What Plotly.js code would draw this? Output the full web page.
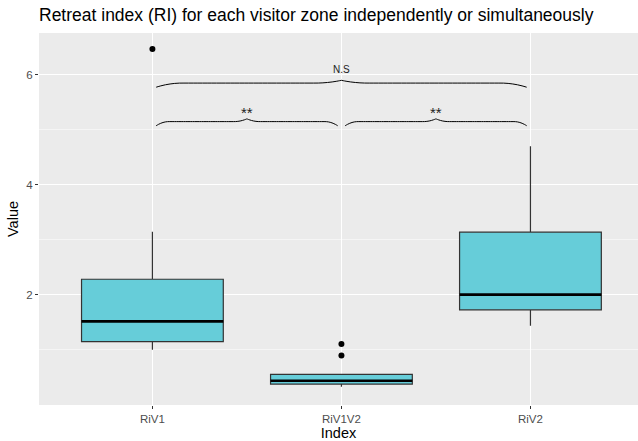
<!DOCTYPE html>
<html>
<head>
<meta charset="utf-8">
<script src="https://cdn.plot.ly/plotly-3.0.1.min.js"></script>
<style>html,body{margin:0;padding:0;background:#fff;}#chart{width:638px;height:441px;}</style>
</head>
<body>
<div id="chart"></div>
<script>
// ---- data ----
const categories = ["RiV1", "RiV1V2", "RiV2"];
const q1 = [1.15, 0.38, 1.73];
const medians = [1.52, 0.44, 2.005];
const q3 = [2.285, 0.555, 3.14];
const lowerWhisker = [1.005, 0.33, 1.44];
const upperWhisker = [3.15, 0.56, 4.70];
const outlierCat = [0, 1, 1];
const outlierVal = [6.47, 1.11, 0.90];
// significance comparisons
const compFrom = [0, 1, 0];
const compTo = [1, 2, 2];
const compLevel = [5.15, 5.15, 5.85];
const compLabel = ["**", "**", "N.S"];

const fillColor = "rgb(102,205,217)";
const boxWidth = 0.75;
const traces = [];

categories.forEach((c, i) => {
  traces.push({
    type: "box",
    x: [i],
    q1: [q1[i]], median: [medians[i]], q3: [q3[i]],
    lowerfence: [lowerWhisker[i]], upperfence: [upperWhisker[i]],
    width: boxWidth,
    whiskerwidth: 0,
    fillcolor: fillColor,
    line: {color: "#333333", width: 1.2},
    boxpoints: false,
    hoverinfo: "skip",
    showlegend: false
  });
  // thick median line
  traces.push({
    type: "scatter", mode: "lines",
    x: [i - boxWidth / 2, i + boxWidth / 2],
    y: [medians[i], medians[i]],
    line: {color: "#000000", width: 2.6},
    hoverinfo: "skip", showlegend: false
  });
});

traces.push({
  type: "scatter", mode: "markers",
  x: outlierCat, y: outlierVal,
  marker: {color: "#000000", size: 6},
  hoverinfo: "skip", showlegend: false
});

// curly braces
function bracePath(x1, x2, y) {
  const xs = [], ys = [];
  const dDown = 0.075, dUp = 0.05, a = 0.14;
  function half(xa, xb, reverse) {
    const n = 40;
    for (let k = 0; k <= n; k++) {
      const u = k / n;
      let off = 0;
      if (u < a) off = -dDown * Math.pow(1 - u / a, 2);
      else if (u > 1 - a) off = dUp * Math.pow((u - (1 - a)) / a, 2);
      xs.push(reverse ? xb - (xb - xa) * u : xa + (xb - xa) * u);
      ys.push(y + off);
    }
  }
  const xm = (x1 + x2) / 2;
  half(x1, xm, false);
  const startIdx = xs.length;
  half(xm, x2, true);
  const rx = xs.splice(startIdx), ry = ys.splice(startIdx);
  rx.reverse(); ry.reverse();
  return {x: xs.concat(rx), y: ys.concat(ry)};
}

const annotations = [];
compFrom.forEach((f, k) => {
  const gap = 0.02;
  const p = bracePath(f + gap, compTo[k] - gap, compLevel[k]);
  traces.push({
    type: "scatter", mode: "lines", x: p.x, y: p.y,
    line: {color: "#000000", width: 1, shape: "spline"},
    hoverinfo: "skip", showlegend: false
  });
  const isNS = compLabel[k] === "N.S";
  annotations.push({
    x: (f + compTo[k]) / 2, y: compLevel[k] + (isNS ? 0.25 : 0.17),
    xref: "x", yref: "y", text: compLabel[k], showarrow: false,
    font: {family: "Liberation Sans, Arial, sans-serif", size: isNS ? 10 : 15, color: "#222"}
  });
});

const layout = {
  width: 638, height: 441,
  margin: {l: 39, r: 0, t: 33, b: 36},
  paper_bgcolor: "#ffffff",
  plot_bgcolor: "#EBEBEB",
  font: {family: "Liberation Sans, Arial, sans-serif", color: "#000"},
  title: {
    text: "Retreat index (RI) for each visitor zone independently or simultaneously",
    x: 0, xref: "paper", xanchor: "left",
    y: 1, yref: "container", yanchor: "top", pad: {t: 9},
    font: {size: 17.5, color: "#000"}
  },
  xaxis: {
    range: [-0.6, 2.569],
    tickvals: [0, 1, 2], ticktext: categories,
    showgrid: true, gridcolor: "#ffffff", gridwidth: 1.1,
    zeroline: false,
    ticks: "outside", ticklen: 3, tickcolor: "#333333", tickwidth: 1,
    tickfont: {size: 11.5, color: "#4D4D4D"},
    title: {text: "Index", font: {size: 14.5, color: "#000"}, standoff: 2}
  },
  yaxis: {
    range: [0.0, 6.76],
    tickvals: [2, 4, 6], ticktext: ["2", "4", "6"],
    showgrid: true, gridcolor: "#ffffff", gridwidth: 1.1,
    zeroline: false,
    ticks: "outside", ticklen: 3, tickcolor: "#333333", tickwidth: 1,
    tickfont: {size: 11.5, color: "#4D4D4D"},
    minor: {tickvals: [1, 3, 5], showgrid: true, gridcolor: "#ffffff", gridwidth: 0.5, ticks: ""},
    title: {text: "Value", font: {size: 14.5, color: "#000"}, standoff: 4}
  },
  annotations: annotations,
  showlegend: false
};

Plotly.newPlot("chart", traces, layout, {displayModeBar: false, staticPlot: true});
</script>
</body>
</html>
